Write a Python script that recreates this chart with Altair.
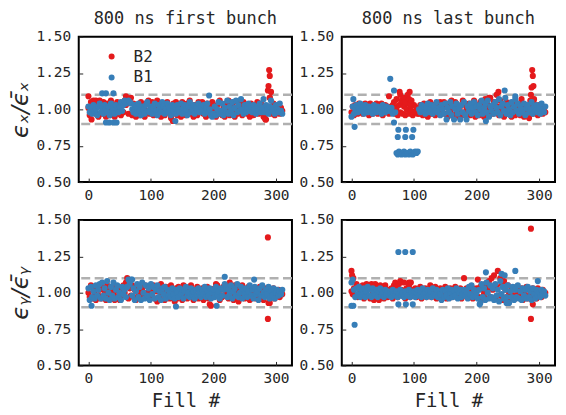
import altair as alt
import pandas as pd

RED = "#e41a1c"
BLUE = "#377eb8"
GRAY = "#b0b0b0"
INK = "#262626"
MONO = "DejaVu Sans Mono"

# Fill numbers sampled every second fill (0 .. 310)
fills = list(range(0, 311, 2))
x_ticks = [0, 100, 200, 300]
y_ticks = [0.5, 0.75, 1.0, 1.25, 1.5]
ref_lines = [0.9, 1.1]
beams = ["B2", "B1"]

# ---------------- Panel 1: 800 ns first bunch, eps_x ----------------
p1_b1 = [1.02, 0.98, 1.01, 0.97, 1.03, 0.99, 1.00, 0.96, 1.02, 1.04, 0.98,
         1.01, 0.97, 1.03, 1.00, 0.98, 1.02, 0.96, 1.04, 0.99, 1.01, 0.97, 1.03, 1.00, 0.98, 1.02, 1.05, 0.99, 1.03, 1.06, 1.04,
         1.05, 1.06, 1.05, 1.04, 1.00, 0.98, 1.03, 0.97, 1.01, 1.04, 0.99, 0.96, 1.02, 1.00, 0.97, 1.03, 1.05, 0.99, 0.98, 1.02,
         0.97, 1.01, 1.04, 0.99, 0.96, 1.03, 1.00, 0.98, 1.05, 1.02, 0.97, 1.00, 1.04, 0.98, 1.01, 0.96, 1.03, 0.99, 1.02, 0.97,
         1.03, 1.00, 0.98, 1.04, 0.97, 1.01, 1.03, 0.99, 0.96, 1.02, 1.05, 0.98, 1.00, 1.03, 0.97, 1.01, 0.99, 1.04, 0.98, 1.02,
         0.99, 1.03, 0.97, 1.01, 1.04, 0.98, 1.00, 0.96, 0.95, 0.97, 1.02, 0.96, 1.00, 1.05, 0.97, 0.99, 1.04, 0.96, 1.01, 0.98,
         1.06, 0.97, 1.02, 0.99, 1.05, 0.96, 1.01, 1.06, 0.98, 1.03, 0.99, 1.07, 1.00, 0.97, 1.03, 0.98, 1.01, 1.04, 0.99, 1.02,
         0.98, 1.03, 1.00, 0.97, 1.02, 0.99, 1.04, 0.98, 1.01, 1.07, 0.98, 1.03, 1.00, 0.97, 1.02, 1.06, 0.99, 1.01, 0.97, 1.03,
         1.00, 0.98, 1.04, 0.99, 0.97]
p1_b1_out_fill = [22, 28, 40, 28, 33, 40, 45, 193, 139]
p1_b1_out_val = [1.11, 1.11, 1.11, 0.91, 0.91, 0.91, 0.91, 1.095, 0.92]

p1_b2 = [1.01, 0.96, 1.05, 0.98, 1.06, 1.03, 0.97, 1.05, 0.95, 1.02, 1.04,
         0.97, 1.05, 0.99, 0.95, 1.04, 1.01, 0.96, 1.06, 0.98, 1.03, 0.95, 1.02, 1.05, 0.97, 1.00, 0.96, 1.04, 0.98, 1.06, 1.03,
         1.07, 0.97, 1.05, 1.08, 0.96, 1.04, 0.99, 0.95, 1.03, 1.00, 0.96, 1.05, 0.98, 1.02, 0.95, 1.04, 0.99, 1.06, 0.97, 1.01,
         1.05, 0.96, 1.02, 0.99, 1.06, 0.97, 1.03, 0.95, 1.01, 1.04, 0.96, 1.00, 1.05, 0.98, 1.02, 0.94, 0.97, 1.04, 0.99, 1.05,
         0.96, 1.03, 1.00, 0.95, 1.05, 0.98, 1.02, 0.96, 1.04, 0.99, 1.06, 0.97, 1.01, 0.95, 1.03, 1.00, 0.96, 1.05, 0.98, 1.02,
         1.05, 0.97, 1.01, 0.95, 1.04, 0.99, 1.02, 0.96, 1.05, 0.98, 1.00, 0.95, 1.03, 0.97, 1.06, 0.99, 0.96, 1.02, 0.95, 1.04,
         0.99, 1.06, 0.96, 1.03, 0.98, 1.05, 0.95, 1.00, 0.97, 1.04, 0.98, 1.02, 0.96, 1.05, 0.99, 1.03, 0.97, 1.01, 0.95, 1.04,
         1.00, 0.96, 1.03, 0.98, 1.05, 0.97, 1.01, 1.04, 0.98, 0.95, 0.94, 0.93, 0.99, 1.02, 1.08, 0.97, 1.00, 1.04, 0.96, 1.02,
         0.98, 1.03, 0.97, 1.01, 0.99]
p1_b2_out_fill = [0, 5, 12, 18, 60, 135, 283, 287, 288, 289, 290, 290, 292]
p1_b2_out_val = [1.09, 0.93, 1.06, 1.06, 1.09, 0.92, 0.93, 1.13, 1.16, 1.27, 1.23, 1.08, 1.12]

# ---------------- Panel 2: 800 ns last bunch, eps_x ----------------
p2_b1 = [0.95, 1.02, 0.97, 1.00, 1.03, 0.98, 1.01, 1.04, 0.99, 1.02, 0.97,
         1.03, 1.00, 0.98, 1.02, 0.99, 1.01, 0.97, 1.03, 1.00, 0.98, 1.02, 0.99, 1.01, 0.97, 1.03, 1.00, 0.98, 1.02, 0.99, 1.01,
         0.99, 1.01, 0.97, 0.91, 0.98,
         0.70, 0.69, 0.71, 0.70, 0.69, 0.70, 0.71, 0.69, 0.70, 0.70, 0.69, 0.71, 0.70, 0.69, 0.70, 0.71, 0.70, 0.71,
         1.00, 0.98, 1.03, 0.99, 1.02, 0.97, 1.01, 1.04, 0.98, 1.00, 1.03, 0.97, 1.02, 0.99, 1.05, 0.98, 1.01, 0.96, 1.03, 1.00,
         0.97, 1.04, 0.93, 1.01, 0.98, 1.05, 0.96, 1.02, 0.93, 1.00, 1.04, 0.97, 1.01, 0.93, 1.03, 0.98, 1.05, 0.96, 0.93, 1.02,
         0.99, 1.04, 0.97, 1.01, 1.05, 0.98, 1.02, 0.96, 1.03, 1.00, 1.06, 0.97, 1.01, 1.04, 0.98, 1.06, 0.95, 1.02, 0.99, 1.03,
         0.97, 1.05, 1.01, 0.98, 1.07, 0.96, 1.02, 1.04, 0.99, 1.08, 0.97, 1.03, 1.00, 0.96, 1.05, 0.98, 1.02, 1.07, 0.99, 1.04,
         0.97, 1.02, 1.00, 0.98, 1.04, 0.96, 1.01, 1.03, 0.98, 1.00, 1.05, 0.97, 1.02, 0.99, 1.03, 0.98, 1.01, 0.97, 1.04, 1.00,
         0.98, 1.02]
p2_b1_out_fill = [3, 5, 62, 68, 74, 86, 97, 75, 87, 99, 215, 245, 262]
p2_b1_out_val = [1.07, 0.88, 1.21, 1.13, 0.81, 0.81, 0.81, 0.86, 0.86, 0.86, 0.92, 1.13, 1.09]

p2_b2 = [0.98, 1.02, 0.96, 1.03, 1.00, 0.97, 1.04, 0.99, 1.03, 0.97, 1.01,
         1.04, 0.98, 1.02, 0.96, 1.04, 1.00, 0.97, 1.03, 0.99, 1.04, 0.97, 1.02, 0.98, 1.04, 0.96, 1.01, 1.03, 0.98, 1.02, 0.97,
         1.00, 0.98, 1.03, 1.05, 0.97, 1.01, 0.96, 1.03, 0.98, 1.04, 0.97, 1.02, 0.96, 1.00, 1.04, 0.97, 1.02, 0.99, 0.96, 1.03,
         0.98, 1.01, 0.97,
         0.97, 1.03, 1.00, 0.96, 1.04, 0.98, 1.02, 0.95, 1.01, 1.05, 0.97, 1.03, 0.99, 0.96, 1.04, 1.00, 0.97, 1.05, 0.98, 1.02,
         1.05, 0.97, 1.02, 0.95, 1.04, 0.99, 1.06, 0.96, 1.01, 1.05, 0.97, 1.03, 0.95, 1.02, 0.98, 1.06, 0.96, 1.03, 1.00, 0.97,
         1.04, 0.96, 1.02, 0.98, 1.06, 0.95, 1.03, 1.00, 0.96, 1.05, 0.98, 1.02, 0.95, 1.07, 0.99, 1.03, 0.96, 1.08, 1.01, 0.97,
         1.05, 0.98, 1.10, 1.02, 0.96, 1.06, 0.99, 1.03, 0.95, 1.01, 1.05, 0.97, 1.03, 0.99, 0.95, 1.04, 1.00, 0.96, 1.02, 0.98,
         1.04, 0.96, 1.07, 0.99, 0.95, 1.03, 0.98, 1.01, 0.94, 1.06, 1.02, 0.97, 1.04, 0.99, 1.02, 0.96, 1.03, 0.98, 1.00, 0.97,
         1.01, 0.98]
p2_b2_out_fill = [60, 72, 77, 78, 80, 84, 86, 93, 90, 92, 94, 96, 235, 220, 289, 290, 291, 288, 287, 292]
p2_b2_out_val = [1.09, 1.07, 1.12, 1.10, 1.06, 1.08, 1.05, 1.12, 1.10, 1.07, 1.04, 1.06, 1.12, 1.08, 1.27, 1.23, 1.16, 1.15, 1.10, 1.07]

# ---------------- Panel 3: 800 ns first bunch, eps_y ----------------
p3_b1 = [1.03, 0.95, 1.04, 0.97, 1.01, 0.96, 1.05, 0.98, 1.02, 1.06, 0.96,
         1.07, 0.98, 1.03, 0.96, 1.08, 1.00, 0.95, 1.04, 0.98, 1.07, 0.96, 1.02, 1.05, 0.97, 1.00, 0.95, 1.04, 0.99, 1.02, 0.97,
         1.04, 1.09, 1.06, 1.09, 0.98, 1.03, 0.95, 1.01, 1.06, 0.97, 1.04, 0.95, 1.07, 1.00, 0.96, 1.05, 0.98, 1.03, 0.95, 1.06,
         0.99, 1.04, 0.96, 1.02, 1.05, 0.97, 1.01, 0.95, 1.03, 0.99, 1.04, 0.96, 1.02, 0.98, 1.01, 0.97, 1.03, 0.99, 0.96, 1.02,
         1.00, 0.97, 1.03, 0.99, 1.02, 0.96, 1.01, 1.04, 0.98, 1.00, 0.97, 1.03, 0.99, 1.01, 0.96, 1.02, 0.98, 1.03, 1.00, 0.97,
         1.02, 0.99, 1.04, 0.97, 1.01, 0.98, 1.03, 0.96, 1.00, 1.02, 0.97, 1.04, 0.99, 1.01, 0.96, 1.03, 0.98, 1.02, 1.06, 1.04,
         0.97, 1.02, 0.99, 1.05, 0.96, 1.01, 1.03, 0.98, 1.06, 0.97, 1.00, 1.04, 0.96, 1.02, 0.99, 1.03, 0.97, 1.01, 1.05, 0.98,
         1.02, 0.96, 1.04, 0.99, 1.01, 0.95, 1.03, 0.98, 1.05, 1.00, 0.97, 1.02, 0.99, 1.04, 0.96, 1.01, 0.98, 1.03, 0.96, 1.00,
         1.02, 0.98, 1.01, 0.99, 1.02]
p3_b1_out_fill = [5, 140, 205, 218, 265, 70, 66]
p3_b1_out_val = [0.91, 0.905, 0.91, 1.11, 1.09, 1.09, 1.08]

p3_b2 = [1.00, 0.97, 1.05, 0.96, 1.03, 0.99, 0.95, 1.04, 0.98, 1.02, 0.96,
         1.04, 0.97, 1.01, 0.95, 1.05, 0.98, 1.03, 0.96, 1.02, 0.99, 0.95, 1.04, 0.97, 1.01, 0.95, 1.03, 0.98, 1.05, 1.00, 1.07,
         1.10, 0.96, 1.03, 0.98, 1.05, 0.97, 1.02, 0.95, 1.04, 0.99, 1.01, 0.96, 1.03, 0.98, 1.05, 0.97, 1.00, 1.04, 0.96, 1.02,
         0.98, 1.05, 0.96, 1.01, 0.94, 1.03, 0.97, 1.06, 0.99, 1.02, 0.95, 1.04, 0.98, 1.01, 0.96, 1.05, 0.99, 1.02, 0.94, 1.03,
         0.96, 1.04, 0.98, 1.02, 0.95, 1.05, 0.99, 1.01, 0.96, 1.03, 0.97, 1.05, 1.00, 0.95, 1.02, 0.98, 1.04, 0.96, 1.01, 0.97,
         1.03, 0.95, 1.01, 0.98, 1.04, 0.96, 0.92, 0.91, 1.02, 0.97, 1.03, 1.06, 1.05, 0.99, 0.95, 1.02, 0.97, 1.04, 0.98, 1.01,
         1.04, 0.96, 1.07, 0.99, 1.02, 0.95, 1.05, 0.98, 1.01, 0.94, 1.03, 0.97, 1.05, 0.99, 0.96, 1.02, 0.98, 1.04, 0.95, 1.01,
         0.97, 1.03, 0.99, 0.96, 1.02, 0.98, 1.04, 0.96, 1.01, 0.95, 1.03, 0.98, 1.00, 0.93, 0.97, 1.02, 0.99, 1.03, 0.96, 1.01,
         0.98, 1.02, 0.97, 1.01, 0.99]
p3_b2_out_fill = [287, 287, 290]
p3_b2_out_val = [1.38, 0.82, 0.93]

# ---------------- Panel 4: 800 ns last bunch, eps_y ----------------
p4_b1 = [1.07, 1.09, 1.02, 0.97, 1.03, 0.99, 1.04, 0.97, 1.02, 0.99, 1.03,
         0.97, 1.01, 1.04, 0.98, 1.02, 0.97, 1.03, 1.00, 0.98, 1.02, 0.97, 1.01, 1.03, 0.98, 1.00, 0.97, 1.02, 0.99, 1.01, 0.98,
         1.00, 0.97, 1.02, 0.99, 0.98, 1.01, 0.97, 0.99, 1.02, 0.98, 1.00, 0.97, 1.01, 0.99, 0.98, 1.02, 0.97, 1.00, 0.98, 1.01,
         0.97, 1.00, 1.02, 0.98, 1.01, 0.97, 1.03, 0.99, 1.00, 0.97, 1.02, 0.98, 1.01, 0.97, 1.03, 0.99, 0.98, 1.02, 0.97, 1.01,
         0.99, 0.95, 1.02, 0.97, 1.01, 0.98, 1.03, 0.96, 1.00, 1.02, 0.97, 1.01, 0.98, 1.03, 0.96, 1.00, 1.02, 0.97, 0.99, 1.02,
         0.98, 1.01, 0.96, 1.04, 0.99, 1.05, 0.97, 1.02, 0.98, 1.00, 0.96, 1.02, 0.93, 1.06, 0.97, 1.03, 0.95, 1.07, 1.00, 0.96,
         1.05, 0.97, 1.03, 0.95, 1.06, 0.98, 1.02, 0.94, 1.08, 0.99, 1.04, 0.96, 1.02, 0.97, 1.05, 0.93, 1.01, 0.97, 1.04, 0.95,
         1.02, 0.97, 1.05, 0.96, 1.01, 0.95, 1.03, 0.98, 1.02, 0.96, 1.04, 0.97, 1.01, 0.95, 1.03, 0.99, 0.96, 1.02, 0.98, 1.00,
         0.97, 1.02, 0.99, 1.01, 0.98]
p4_b1_out_fill = [0, 3, 5, 75, 86, 98, 75, 87, 98, 215, 240, 245, 262, 298, 205, 248]
p4_b1_out_val = [0.91, 0.91, 0.78, 1.28, 1.28, 1.28, 0.92, 0.92, 0.92, 1.14, 1.13, 1.12, 1.15, 1.08, 0.92, 0.93]

p4_b2 = [1.01, 0.99, 1.03, 0.98, 1.06, 0.97, 1.04, 1.00, 0.98, 1.05, 0.96,
         1.03, 1.06, 0.98, 1.05, 0.96, 1.06, 1.00, 0.95, 1.06, 0.99, 1.04, 0.95, 1.05, 0.98, 1.02, 0.96, 1.05, 0.99, 0.97, 1.02,
         0.98, 1.03, 0.96, 1.05, 1.07, 1.04, 0.97, 1.06, 1.08, 1.02, 0.98, 1.07, 0.96, 1.03, 0.99, 1.05, 0.97, 1.02, 0.98, 1.01,
         1.03, 0.97, 1.02, 0.99, 1.04, 0.96, 1.01, 0.98, 1.03, 0.97, 1.02, 0.99, 1.05, 0.97, 1.01, 0.98, 1.04, 0.96, 1.02, 0.99,
         1.03, 0.97, 1.01, 0.98, 1.04, 0.96, 1.02, 0.99, 1.03, 0.97, 1.01, 0.98, 1.04, 0.97, 1.02, 0.99, 1.03, 0.96, 1.01, 1.10,
         0.98, 1.03, 0.97, 1.01, 0.99, 1.04, 0.96, 1.02, 0.98, 1.03, 1.09, 0.97, 1.04, 0.95, 1.02, 0.99, 1.06, 0.96, 1.03, 1.08,
         0.97, 1.10, 1.02, 1.12, 0.96, 1.04, 1.15, 0.98, 1.10, 1.06, 0.95, 1.08, 1.02, 0.97, 1.05, 0.99, 0.96, 1.03, 0.98, 1.02,
         0.96, 1.04, 0.99, 1.02, 0.97, 1.03, 0.95, 1.01, 0.98, 1.04, 0.96, 1.02, 0.99, 0.97, 1.03, 0.98, 1.01, 0.96, 1.03, 0.99,
         1.01, 0.97, 1.02, 0.99, 1.00]
p4_b2_out_fill = [0, 1, 3, 287, 287, 290, 92, 95]
p4_b2_out_val = [1.15, 1.12, 1.10, 1.44, 0.82, 0.92, 1.07, 1.07]


def frame(base, out_f, out_v, beam, name):
    if len(base) != len(fills):
        raise ValueError(f"{name}: {len(base)} values, expected {len(fills)}")
    rows = [{"fill": f, "value": v, "beam": beam} for f, v in zip(fills, base)]
    rows += [{"fill": f, "value": v, "beam": beam} for f, v in zip(out_f, out_v)]
    return pd.DataFrame(rows)


color_scale = alt.Scale(domain=beams, range=[RED, BLUE])
legend = alt.Legend(title=None, orient="none", legendX=25, legendY=12, direction="vertical",
                    labelFont=MONO, labelFontSize=16, labelColor=INK, symbolType="circle",
                    symbolSize=36, symbolStrokeWidth=0, labelOffset=14, rowPadding=5, padding=0)


def panel(b2, b1, title, ytitle, xtitle):
    x = alt.X("fill:Q", scale=alt.Scale(domain=[-15.5, 325.5], nice=False, zero=False),
              axis=alt.Axis(values=x_ticks, title=xtitle, format="d"))
    y = alt.Y("value:Q", scale=alt.Scale(domain=[0.5, 1.5], nice=False, zero=False),
              axis=alt.Axis(values=y_ticks, title=ytitle, format=".2f"))
    col = alt.Color("beam:N", scale=color_scale, legend=legend)
    rules = alt.Chart(pd.DataFrame({"value": ref_lines})).mark_rule(
        color=GRAY, strokeWidth=2.5, strokeDash=[9, 4.5]).encode(y=y)
    red = alt.Chart(b2).mark_circle(size=38, opacity=1).encode(x=x, y=y, color=col)
    blue = alt.Chart(b1).mark_circle(size=38, opacity=1).encode(x=x, y=y, color=col)
    props = dict(width=214, height=146)
    if title:
        props["title"] = alt.Title(title, font=MONO, fontSize=17, fontWeight="normal",
                                   color=INK, offset=1, frame="group")
    return alt.layer(rules, red, blue).properties(**props)


YX = "\u03f5\u2093/\u03f5\u0304\u2093"
YY = "\u03f5\u1d67/\u03f5\u0304\u1d67"

c1 = panel(frame(p1_b2, p1_b2_out_fill, p1_b2_out_val, "B2", "p1_b2"),
           frame(p1_b1, p1_b1_out_fill, p1_b1_out_val, "B1", "p1_b1"),
           "800 ns first bunch", YX, None)
c2 = panel(frame(p2_b2, p2_b2_out_fill, p2_b2_out_val, "B2", "p2_b2"),
           frame(p2_b1, p2_b1_out_fill, p2_b1_out_val, "B1", "p2_b1"),
           "800 ns last bunch", None, None)
c3 = panel(frame(p3_b2, p3_b2_out_fill, p3_b2_out_val, "B2", "p3_b2"),
           frame(p3_b1, p3_b1_out_fill, p3_b1_out_val, "B1", "p3_b1"),
           None, YY, "Fill #")
c4 = panel(frame(p4_b2, p4_b2_out_fill, p4_b2_out_val, "B2", "p4_b2"),
           frame(p4_b1, p4_b1_out_fill, p4_b1_out_val, "B1", "p4_b1"),
           None, None, "Fill #")

chart = alt.concat(c1, c2, c3, c4, columns=2, spacing={"row": 38, "column": 50},
                   bounds="flush").properties(
    padding={"left": 0, "top": 0, "right": 0, "bottom": 0}
).configure_view(stroke="black", strokeWidth=2).configure_axis(
    grid=False, domain=False, offset=-4, tickSize=4, tickWidth=1, tickColor=INK,
    labelFont=MONO, labelFontSize=14.5, labelColor=INK,
    titleFontWeight="normal", titleColor=INK
).configure_axisX(
    labelPadding=6, titleFont=MONO, titleFontSize=19, titlePadding=7
).configure_axisY(
    labelPadding=8, titleFont="DejaVu Sans", titleFontSize=23, titleFontStyle="italic", titlePadding=4
)

chart.save("out.html", embed_options={"renderer": "svg", "actions": False})
